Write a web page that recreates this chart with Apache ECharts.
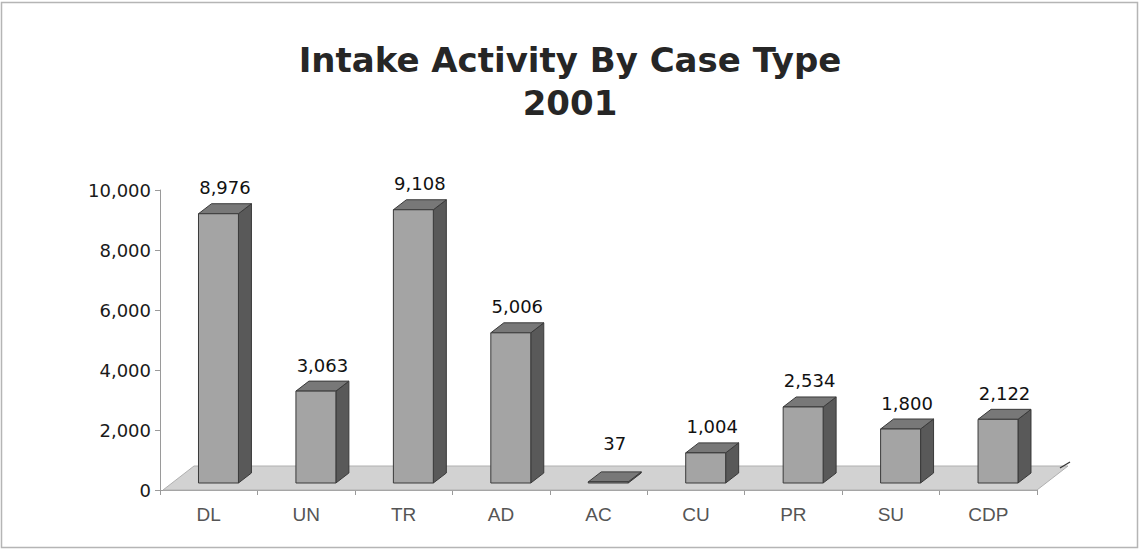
<!DOCTYPE html>
<html>
<head>
<meta charset="utf-8">
<script src="https://cdn.jsdelivr.net/npm/echarts@6/dist/echarts.min.js"></script>
<style>
html,body{margin:0;padding:0;background:#fff;}
#chart{width:1140px;height:552px;}
</style>
</head>
<body>
<div id="chart"></div>
<script>
const categories = ['DL','UN','TR','AD','AC','CU','PR','SU','CDP'];
const intakeValues = [8976, 3063, 9108, 5006, 37, 1004, 2534, 1800, 2122];
const yTicks = [0, 2000, 4000, 6000, 8000, 10000];
const titleLines = ['Intake Activity By Case Type', '2001'];

const DX = 13, DY = 10, LIFT = 7;
const fmt = v => v.toLocaleString('en-US');
const NUM_FONT = '"DejaVu Sans", sans-serif';

function renderFloor(params, api) {
  const bw = api.size([1, 0])[0];
  const p0 = api.coord([0, 0]);
  const p1 = api.coord([categories.length - 1, 0]);
  const left = p0[0] - bw / 2 + 3, right = p1[0] + bw / 2;
  const y = p0[1];
  return {
    type: 'group',
    children: [
      { type: 'polygon', shape: { points: [[left, y], [right, y], [right + 31, y - 24], [left + 31, y - 24]] },
        style: { fill: '#d2d2d2', stroke: '#b0b0b0', lineWidth: 1 } },
      { type: 'line', shape: { x1: right + 23, y1: y - 22, x2: right + 33, y2: y - 28 },
        style: { stroke: '#333', lineWidth: 1.2 } }
    ]
  };
}

function renderBar(params, api) {
  const i = api.value(0), v = api.value(1);
  const base = api.coord([i, 0]);
  const top = api.coord([i, v]);
  const bw = api.size([1, 0])[0];
  const w = bw * 0.41;
  const cx = base[0] + bw * 0.1;
  const x0 = cx - w / 2, x1 = cx + w / 2;
  const yb = base[1] - LIFT, yt = top[1] - LIFT;
  const edge = { stroke: '#3a3a3a', lineWidth: 1 };
  const ly = Math.min(yt - 26, base[1] - 47);
  return {
    type: 'group',
    children: [
      { type: 'polygon', shape: { points: [[x1, yb], [x1 + DX, yb - DY], [x1 + DX, yt - DY], [x1, yt]] },
        style: Object.assign({ fill: '#595959' }, edge) },
      { type: 'polygon', shape: { points: [[x0, yt], [x0 + DX, yt - DY], [x1 + DX, yt - DY], [x1, yt]] },
        style: Object.assign({ fill: '#787878' }, edge) },
      { type: 'rect', shape: { x: x0, y: yt, width: w, height: Math.max(yb - yt, 0.5) },
        style: Object.assign({ fill: '#a4a4a4' }, edge) },
      { type: 'text', x: cx + DX / 2, y: ly,
        style: { text: fmt(v), textAlign: 'center', textVerticalAlign: 'middle',
                 font: '18px ' + NUM_FONT, fill: '#111' } }
    ]
  };
}

const chart = echarts.init(document.getElementById('chart'), null, { renderer: 'svg' });
chart.setOption({
  backgroundColor: '#fff',
  animation: false,
  title: {
    text: titleLines.join('\n'),
    left: 'center',
    top: 33,
    textStyle: { fontFamily: '"DejaVu Sans", sans-serif', fontWeight: 'bold', fontSize: 34, lineHeight: 43, color: '#262626' }
  },
  graphic: [
    { type: 'rect', shape: { x: 1.5, y: 2.5, width: 1136, height: 545 }, style: { fill: 'none', stroke: '#b5b5b5', lineWidth: 1.5 }, z: -10 }
  ],
  grid: { left: 160, right: 103, top: 190, bottom: 62 },
  xAxis: {
    type: 'category',
    data: categories,
    boundaryGap: true,
    axisLine: { lineStyle: { color: '#9a9a9a' } },
    axisTick: { show: true, alignWithLabel: false, interval: 0, length: 5, lineStyle: { color: '#9a9a9a' } },
    axisLabel: { margin: 15, fontSize: 19, color: '#555', fontFamily: '"Liberation Sans", Arial, sans-serif' },
    splitLine: { show: false }
  },
  yAxis: {
    type: 'value',
    min: yTicks[0],
    max: yTicks[yTicks.length - 1],
    interval: yTicks[1] - yTicks[0],
    axisLine: { show: true, lineStyle: { color: '#9a9a9a' } },
    axisTick: { show: true, length: 5, lineStyle: { color: '#9a9a9a' } },
    axisLabel: { margin: 9, fontSize: 18, color: '#1a1a1a', fontFamily: NUM_FONT, formatter: v => fmt(v) },
    splitLine: { show: false }
  },
  series: [
    { type: 'custom', renderItem: renderFloor, data: [[0, 0]], encode: { x: 0, y: 1 }, clip: false, z: 1, silent: true },
    { type: 'custom', renderItem: renderBar, data: categories.map((c, i) => [i, intakeValues[i]]), encode: { x: 0, y: 1 }, clip: false, z: 2 }
  ]
});
</script>
</body>
</html>
